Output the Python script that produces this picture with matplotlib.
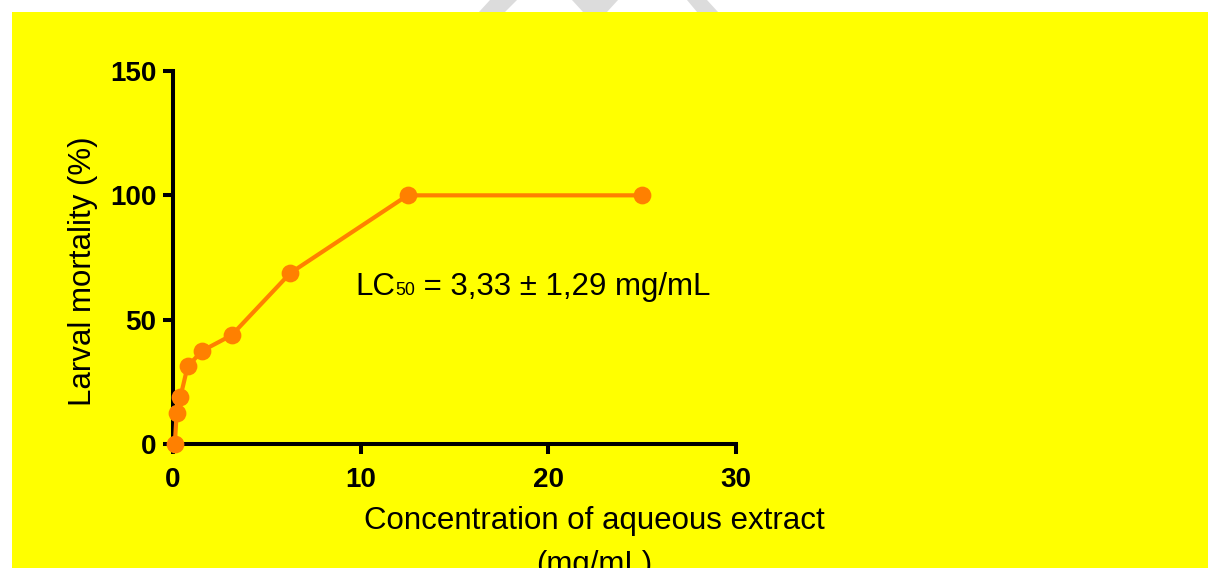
import matplotlib
matplotlib.use("Agg")
import matplotlib.pyplot as plt
from matplotlib.patches import Rectangle, Polygon
from matplotlib.transforms import ScaledTranslation

# ---- data ----
concentration = [0.0977, 0.195, 0.39, 0.78, 1.5625, 3.125, 6.25, 12.5, 25]
mortality = [0, 12.5, 18.75, 31.25, 37.5, 43.75, 68.75, 100, 100]
x_ticks = [0, 10, 20, 30]
y_ticks = [0, 50, 100, 150]
y_label = "Larval mortality (%)"
x_label_1 = "Concentration of aqueous extract"
x_label_2 = "(mg/mL)"
lc_main = "LC"
lc_sub = "50"
lc_rest = " = 3,33 \u00b1 1,29 mg/mL"

W, H, DPI = 1208, 568, 100
plt.rcParams["font.family"] = ["Liberation Sans", "DejaVu Sans"]

fig = plt.figure(figsize=(W / DPI, H / DPI), dpi=DPI)
fig.patch.set_facecolor("white")


def fx(px):
    return px / W


def fy(py):
    return 1 - py / H


# faint watermark fragments above the yellow panel
wm = [
    [(490, 0), (517, 0), (505, 12), (479, 12)],
    [(572, 0), (618, 0), (607, 12), (583, 12)],
    [(687, 0), (707, 0), (718, 12), (697, 12)],
]
for poly in wm:
    fig.add_artist(Polygon([(fx(a), fy(b)) for a, b in poly], closed=True,
                           transform=fig.transFigure, facecolor="#dcdcdc",
                           edgecolor="none", zorder=0))

# yellow panel
fig.add_artist(Rectangle((fx(12), 0), 1, fy(12), transform=fig.transFigure,
                         facecolor="#FFFF00", edgecolor="none", zorder=0.5))

ax = fig.add_axes([fx(173), fy(444), fx(736 - 173), (444 - 71) / H])
ax.set_facecolor("none")
ax.set_zorder(2)

orange = "#FF8000"
ax.plot(concentration, mortality, color=orange, lw=3.0, marker="o",
        markersize=12.8, markeredgewidth=0, clip_on=False, zorder=3)

ax.set_xlim(0, 30)
ax.set_ylim(0, 150)
ax.set_xticks(x_ticks)
ax.set_yticks(y_ticks)
for s in ["top", "right"]:
    ax.spines[s].set_visible(False)
for s in ["left", "bottom"]:
    ax.spines[s].set_linewidth(2.9)
    ax.spines[s].set_color("black")
    ax.spines[s].set_capstyle("projecting")
ax.tick_params(axis="x", direction="out", length=7.4, width=2.9, pad=9,
               labelsize=20)
ax.tick_params(axis="y", direction="out", length=7.4, width=2.9, pad=4.5,
               labelsize=20)
for lab in ax.get_xticklabels() + ax.get_yticklabels():
    lab.set_fontweight("bold")

# axis titles
fig.text(fx(83), fy(271), y_label, rotation=90, ha="center", va="center",
         fontsize=22.5)
fig.text(fx(594), fy(529), x_label_1, ha="center", va="baseline",
         fontsize=22.5)
fig.text(fx(594), fy(573), x_label_2, ha="center", va="baseline",
         fontsize=22.5)

# LC50 annotation
lx = (355 - 173) / (736 - 173) * 30
ly = (444 - 295) / (444 - 71) * 150
t1 = ax.text(lx, ly, lc_main, fontsize=22.5, ha="left", va="baseline")
fig.canvas.draw()
r = fig.canvas.get_renderer()
w1 = t1.get_window_extent(r).width
t2 = ax.text(lx, ly, lc_sub, fontsize=12.8, ha="left", va="baseline",
             transform=ax.transData + ScaledTranslation(w1 / DPI, 0, fig.dpi_scale_trans))
fig.canvas.draw()
w2 = t2.get_window_extent(r).width
ax.text(lx, ly, lc_rest, fontsize=22.5, ha="left", va="baseline",
        transform=ax.transData + ScaledTranslation((w1 + w2) / DPI, 0, fig.dpi_scale_trans))

fig.savefig("out.png", dpi=DPI, facecolor=fig.get_facecolor())
